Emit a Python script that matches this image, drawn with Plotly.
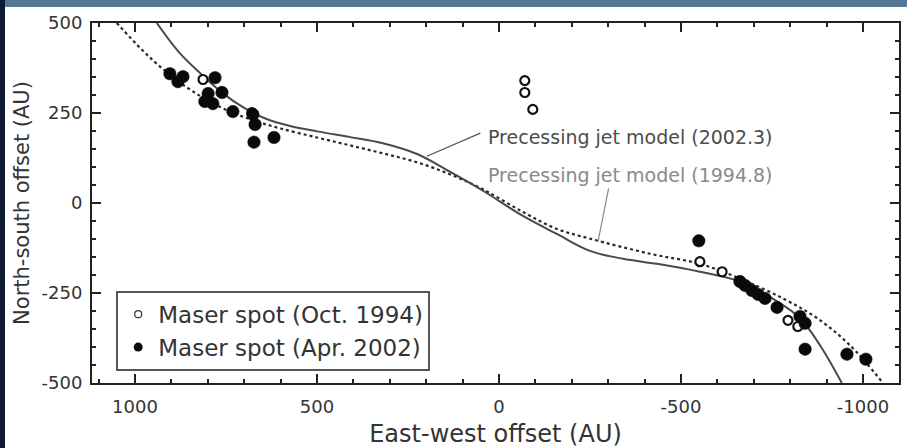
import plotly.graph_objects as go

# ---------------- data ----------------
# Maser spots, Oct. 1994 (open circles)
oct94_x = [813, 761, 679, -71, -71, -93, -552, -613, -794, -821]
oct94_y = [343, 309, 251, 340, 307, 260, -163, -191, -326, -343]

# Maser spots, Apr. 2002 (filled circles)
apr02_x = [904, 868, 882, 780, 799, 761, 808, 786, 731, 676, 670, 673, 618,
           -549, -662, -676, -695, -712, -731, -764, -827, -841, -841, -956, -1008]
apr02_y = [359, 351, 337, 348, 304, 307, 282, 276, 254, 246, 218, 169, 182,
           -105, -218, -229, -243, -254, -265, -290, -315, -334, -406, -420, -434]

# Precessing jet model (2002.3) - solid curve
model2002_x = [940, 880, 820, 760, 700, 640, 574, 500, 409, 319, 225, 135, 44,
               -66, -159, -250, -341, -434, -552, -662, -764, -827, -882, -942]
model2002_y = [500, 420, 360, 306, 264, 234, 214, 199, 183, 166, 136, 87, 34,
               -36, -86, -133, -155, -169, -191, -218, -273, -320, -395, -500]

# Precessing jet model (1994.8) - dotted curve
model1994_x = [1050, 980, 923, 860, 800, 739, 670, 600, 500, 409, 319, 225, 135,
               44, -66, -159, -250, -415, -552, -662, -780, -874, -964, -1055]
model1994_y = [500, 425, 372, 323, 285, 254, 228, 207, 182, 160, 138, 113, 80,
               38, -25, -72, -99, -141, -169, -210, -265, -320, -395, -500]

x_tick_vals = [1000, 500, 0, -500, -1000]
x_tick_text = ["1000", "500", "0", "-500", "-1000"]
y_tick_vals = [500, 250, 0, -250, -500]
y_tick_text = ["500", "250", "0", "-250", "-500"]

label_2002 = "Precessing jet model (2002.3)"
label_1994 = "Precessing jet model (1994.8)"
legend_oct = "Maser spot (Oct. 1994)"
legend_apr = "Maser spot (Apr. 2002)"

FONT = "DejaVu Sans"

fig = go.Figure()

fig.add_trace(go.Scatter(
    x=model1994_x, y=model1994_y, mode="lines", name=label_1994,
    line=dict(color="#2a2a2a", width=2.2, dash="dot", shape="spline"),
    showlegend=False, hoverinfo="skip"))
fig.add_trace(go.Scatter(
    x=model2002_x, y=model2002_y, mode="lines", name=label_2002,
    line=dict(color="#4a4a4a", width=2, shape="spline"),
    showlegend=False, hoverinfo="skip"))

fig.add_trace(go.Scatter(
    x=oct94_x, y=oct94_y, mode="markers", name=legend_oct, showlegend=False,
    marker=dict(symbol="circle", size=9, color="white",
                line=dict(color="#111", width=2.2))))
fig.add_trace(go.Scatter(
    x=apr02_x, y=apr02_y, mode="markers", name=legend_apr, showlegend=False,
    marker=dict(symbol="circle", size=12.5, color="#0a0a0a",
                line=dict(color="#0a0a0a", width=0.5))))

# legend entries (small symbols as in the reference)
fig.add_trace(go.Scatter(
    x=[None], y=[None], mode="markers", name=legend_oct,
    marker=dict(symbol="circle", size=7, color="white",
                line=dict(color="#333", width=1.2))))
fig.add_trace(go.Scatter(
    x=[None], y=[None], mode="markers", name=legend_apr,
    marker=dict(symbol="circle", size=9, color="#0a0a0a")))

axis_common = dict(
    showgrid=False, zeroline=False, showline=True, linecolor="#222",
    linewidth=2, mirror="ticks", ticks="inside", tickcolor="#222",
    tickwidth=1.5, ticklen=9, automargin=False,
    tickfont=dict(family=FONT, size=18, color="#333"),
)

fig.update_layout(
    width=907, height=448,
    margin=dict(l=92, r=8, t=23, b=65),
    paper_bgcolor="white", plot_bgcolor="white",
    font=dict(family=FONT, color="#333"),
    xaxis=dict(
        range=[1118, -1099], tickmode="array",
        tickvals=x_tick_vals, ticktext=x_tick_text,
        minor=dict(tickmode="linear", tick0=0, dtick=100, ticks="inside",
                   ticklen=4, tickcolor="#222", tickwidth=1.5),
        title=dict(text="East-west offset (AU)", standoff=12,
                   font=dict(family=FONT, size=24, color="#333")),
        ticklabelstandoff=6,
        **axis_common),
    yaxis=dict(
        range=[-500, 500], tickmode="array",
        tickvals=y_tick_vals, ticktext=y_tick_text,
        minor=dict(tickmode="linear", tick0=0, dtick=50, ticks="inside",
                   ticklen=4, tickcolor="#222", tickwidth=1.5),
        title=dict(text="North-south offset (AU)", standoff=6,
                   font=dict(family=FONT, size=21, color="#333")),
        ticklabelstandoff=4,
        **axis_common),
    legend=dict(
        x=0.03, y=0.034, xanchor="left", yanchor="bottom",
        bgcolor="white", bordercolor="#555", borderwidth=2,
        font=dict(family=FONT, size=23, color="#333"),
        itemsizing="trace",
    ),
    showlegend=True,
)

# annotation texts and leader lines
fig.add_annotation(x=36, y=182, xref="x", yref="y", text=label_2002,
                   showarrow=False, xanchor="left", yanchor="middle",
                   font=dict(family=FONT, size=19, color="#4d4d4d"))
fig.add_annotation(x=36, y=77, xref="x", yref="y", text=label_1994,
                   showarrow=False, xanchor="left", yanchor="middle",
                   font=dict(family=FONT, size=19, color="#8a8a8a"))
fig.add_annotation(x=198, y=130, xref="x", yref="y", ax=47, ay=196,
                   axref="x", ayref="y", text="", showarrow=True,
                   arrowhead=0, arrowwidth=1.2, arrowcolor="#555")
fig.add_annotation(x=-272, y=-108, xref="x", yref="y", ax=-302, ay=45,
                   axref="x", ayref="y", text="", showarrow=True,
                   arrowhead=0, arrowwidth=1.2, arrowcolor="#888")

# photographic background strips around the white panel
pw, ph = 807.0, 360.0
fig.add_shape(type="rect", xref="paper", yref="paper", layer="below",
              x0=-92 / pw, x1=815 / pw, y0=(383 - 7) / ph, y1=383 / ph,
              fillcolor="#557796", line=dict(width=0))
fig.add_shape(type="rect", xref="paper", yref="paper", layer="below",
              x0=-92 / pw, x1=-87 / pw, y0=-65 / ph, y1=383 / ph,
              fillcolor="#0d1a32", line=dict(width=0))

fig.write_html(
    "out.html",
    config={"displayModeBar": False},
    post_script="document.body.style.margin='0';document.body.style.overflow='hidden';",
)
